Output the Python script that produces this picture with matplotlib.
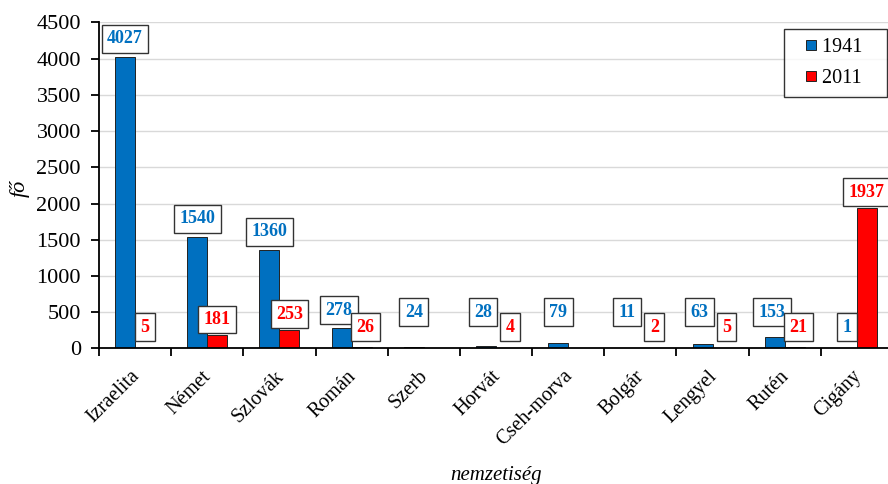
import numpy as np
import matplotlib
matplotlib.use("Agg")
import matplotlib.pyplot as plt
import matplotlib.transforms as mtrans
from matplotlib.lines import Line2D

plt.rcParams['font.family'] = ['Liberation Serif', 'DejaVu Serif']

categories = ['Izraelita', 'Német', 'Szlovák', 'Román', 'Szerb', 'Horvát',
              'Cseh-morva', 'Bolgár', 'Lengyel', 'Rutén', 'Cigány']
# None = no data (no bar, no label)
v1941 = [4027, 1540, 1360, 278, 24, 28, 79, 11, 63, 153, 1]
v2011 = [5, 181, 253, 26, None, 4, None, 2, 5, 21, 1937]
series_names = ['1941', '2011']
yticks = [0, 500, 1000, 1500, 2000, 2500, 3000, 3500, 4000, 4500]

blue = '#0070C0'
red = '#FF0000'

fig = plt.figure(figsize=(8.88, 4.84), dpi=100)
ax = fig.add_axes([99 / 888, 0.280, 794 / 888, 0.6736])

x = np.arange(len(categories))
w = 0.277

def clean(vals):
    return np.array([np.nan if v is None else v for v in vals], dtype=float)

a = clean(v1941)
b = clean(v2011)

ax.bar(x - w / 2, a, w, color=blue, edgecolor='#222222', linewidth=0.7, zorder=3)
ax.bar(x + w / 2, b, w, color=red, edgecolor='#222222', linewidth=0.7, zorder=3)

ax.set_xlim(-0.5, len(categories) - 0.5)
ax.set_ylim(0, 4500)
ax.set_yticks(yticks)
ax.grid(axis='y', color='#d9d9d9', linewidth=1.0, zorder=0)
ax.set_axisbelow(True)

for s in ['top', 'right']:
    ax.spines[s].set_visible(False)
for s in ['left', 'bottom']:
    ax.spines[s].set_linewidth(1.3)
    ax.spines[s].set_color('black')
    ax.spines[s].set_zorder(4)

ax.tick_params(axis='y', direction='out', length=6, width=1.3, pad=7, labelsize=16)

# category labels at centers, tick marks at boundaries
ax.set_xticks(x)
ax.set_xticklabels(categories, rotation=45, ha='right', va='center',
                   rotation_mode='anchor', fontsize=14.5)
ax.set_xticks(np.arange(len(categories) + 1) - 0.5, minor=True)
ax.tick_params(axis='x', which='major', length=0, pad=18)
ax.tick_params(axis='x', which='minor', direction='out', length=6, width=1.3)
shift = mtrans.ScaledTranslation(1 / 72, 0, fig.dpi_scale_trans)
for lab in ax.get_xticklabels():
    lab.set_transform(lab.get_transform() + shift)

ax.set_ylabel('fő', fontsize=16, style='italic')
ax.yaxis.set_label_coords(-0.087, 0.49)
ax.set_xlabel('nemzetiség', fontsize=15, style='italic')
ax.xaxis.set_label_coords(0.5, -0.36)

# data labels in boxes
box = dict(boxstyle='square,pad=0.3', facecolor='white', edgecolor='#333333', linewidth=1.0)

def label_y(v, col):
    if col == blue and v >= 10:
        return max(v + 250, 500)
    return max(v + 220, 294)

for i in range(len(categories)):
    ya = None if np.isnan(a[i]) else label_y(a[i], blue)
    yb = None if np.isnan(b[i]) else label_y(b[i], red)
    # nudge apart labels that sit at the same height
    close = ya is not None and yb is not None and abs(ya - yb) < 400
    for v, yc, off, col, dx in [(a[i], ya, -w / 2, blue, -3 if close else 0),
                                (b[i], yb, w / 2, red, 4 if close else 0)]:
        if yc is None:
            continue
        t = ax.text(x[i] + off, yc, '%d' % v, color=col, fontsize=13,
                    fontweight='bold', ha='center', va='center', bbox=box,
                    zorder=5, clip_on=False)
        t.set_transform(ax.transData + mtrans.ScaledTranslation(dx / 100, 0, fig.dpi_scale_trans))

handles = [Line2D([], [], marker='s', linestyle='none', markersize=7.2,
                  markerfacecolor=blue, markeredgecolor='#222222', markeredgewidth=0.7),
           Line2D([], [], marker='s', linestyle='none', markersize=7.2,
                  markerfacecolor=red, markeredgecolor='#222222', markeredgewidth=0.7)]
leg = ax.legend(handles, [n + '   ' for n in series_names], loc='upper right',
                bbox_to_anchor=(0.992, 0.979), borderaxespad=0, fontsize=14.5,
                handlelength=1.76, handletextpad=-0.33, labelspacing=0.55,
                borderpad=0.45, fancybox=False, frameon=True)
leg.get_frame().set_edgecolor('black')
leg.get_frame().set_linewidth(1.0)

fig.savefig('out.png', dpi=100)
